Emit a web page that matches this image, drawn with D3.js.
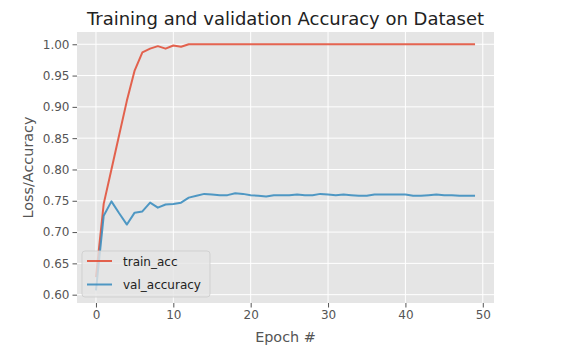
<!DOCTYPE html>
<html><head><meta charset="utf-8">
<script src="https://cdn.jsdelivr.net/npm/d3@7"></script>
<style>
html,body{margin:0;padding:0;background:#fff;}
text{font-family:"DejaVu Sans",sans-serif;}
</style></head>
<body><svg id="c" width="572" height="361"></svg>
<script>
const epochs = d3.range(0, 50);
const trainAcc = [0.628,0.745,0.800,0.855,0.910,0.958,0.987,0.993,0.997,0.993,0.998,0.996,1.0,1.0,1.0,1.0,1.0,1.0,1.0,1.0,
1.0,1.0,1.0,1.0,1.0,1.0,1.0,1.0,1.0,1.0,1.0,1.0,1.0,1.0,1.0,1.0,1.0,1.0,1.0,1.0,
1.0,1.0,1.0,1.0,1.0,1.0,1.0,1.0,1.0,1.0];
const valAcc = [0.607,0.726,0.749,0.730,0.712,0.731,0.733,0.747,0.739,0.744,0.745,0.747,0.755,0.758,0.761,0.760,0.759,0.759,0.762,0.761,
0.759,0.758,0.757,0.759,0.759,0.759,0.760,0.759,0.759,0.761,0.760,0.759,0.760,0.759,0.758,0.758,0.760,0.760,0.760,0.760,
0.760,0.758,0.758,0.759,0.760,0.759,0.759,0.758,0.758,0.758];
const xTicks = [0,10,20,30,40,50];
const yTicks = [0.60,0.65,0.70,0.75,0.80,0.85,0.90,0.95,1.00];
const seriesNames = ["train_acc","val_accuracy"];
const colors = ["#E24A33","#348ABD"];

const L=77, R=494, T=32, B=303;
const svg = d3.select("#c");
const x = d3.scaleLinear().domain([-2.45, 51.45]).range([L, R]);
const y = d3.scaleLinear().domain([0.5867, 1.0196]).range([B, T]);

svg.append("rect").attr("x",L).attr("y",T).attr("width",R-L).attr("height",B-T).attr("fill","#E5E5E5");

const g = svg.append("g");
g.selectAll(".gx").data(xTicks).join("line")
  .attr("x1",d=>x(d)).attr("x2",d=>x(d)).attr("y1",T).attr("y2",B)
  .attr("stroke","#fff").attr("stroke-width",1);
g.selectAll(".gy").data(yTicks).join("line")
  .attr("y1",d=>y(d)).attr("y2",d=>y(d)).attr("x1",L).attr("x2",R)
  .attr("stroke","#fff").attr("stroke-width",1);

const xAxis = svg.append("g").attr("transform",`translate(0,${B})`)
  .call(d3.axisBottom(x).tickValues(xTicks).tickFormat(d3.format("d")).tickSize(4.5).tickPadding(3));
const yAxis = svg.append("g").attr("transform",`translate(${L},0)`)
  .call(d3.axisLeft(y).tickValues(yTicks).tickFormat(d3.format(".2f")).tickSize(4.5).tickPadding(3));
[xAxis,yAxis].forEach(a=>{
  a.select(".domain").remove();
  a.selectAll("line").attr("stroke","#555");
  a.selectAll("text").attr("fill","#555").style("font-size","12px").style("font-family","DejaVu Sans");
});

const line = d3.line().x((d,i)=>x(epochs[i])).y(d=>y(d));
[trainAcc,valAcc].forEach((s,k)=>{
  svg.append("path").datum(s).attr("d",line).attr("fill","none")
    .attr("stroke",colors[k]).attr("stroke-width",2).attr("stroke-opacity",0.85).attr("stroke-linejoin","round");
});

svg.append("text").attr("x",(L+R)/2).attr("y",25).attr("text-anchor","middle")
  .style("font-size","18px").attr("fill","#222").text("Training and validation Accuracy on Dataset");
svg.append("text").attr("x",(L+R)/2).attr("y",342).attr("text-anchor","middle")
  .style("font-size","14.4px").attr("fill","#555").text("Epoch #");
svg.append("text").attr("transform",`translate(33,${(T+B)/2}) rotate(-90)`).attr("text-anchor","middle")
  .style("font-size","14.4px").attr("fill","#555").text("Loss/Accuracy");

const lg = svg.append("g");
lg.append("rect").attr("x",82).attr("y",251).attr("width",128).attr("height",46).attr("rx",3)
  .attr("fill","#E5E5E5").attr("fill-opacity",0.8).attr("stroke","#ccc").attr("stroke-opacity",0.8);
seriesNames.forEach((n,k)=>{
  const yy = 261 + k*23.5;
  lg.append("line").attr("x1",87).attr("x2",112).attr("y1",yy).attr("y2",yy)
    .attr("stroke",colors[k]).attr("stroke-width",2).attr("stroke-opacity",0.85);
  lg.append("text").attr("x",123).attr("y",yy+4.5).style("font-size","12px").attr("fill","#222").text(n);
});
</script></body></html>
